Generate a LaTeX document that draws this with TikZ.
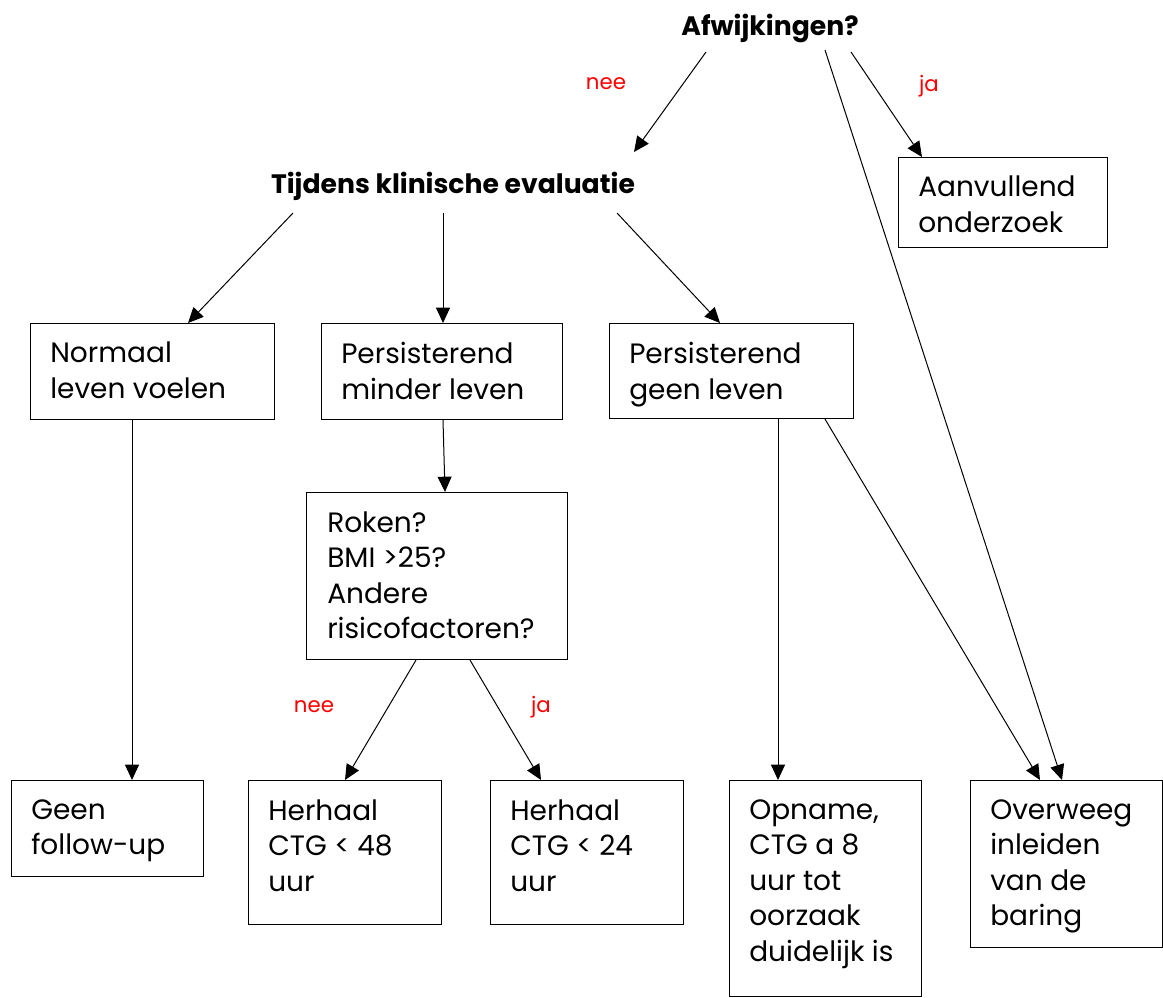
\documentclass[tikz,border=0pt]{standalone}
\usepackage{fontspec}
\setmainfont{Poppins}
\usetikzlibrary{arrows.meta,calc}
\tikzset{
  box/.style={draw, line width=0.8pt, anchor=north west, inner sep=0pt},
  txt/.style={anchor=north west, inner sep=0pt, align=left, font=\fontsize{21}{26.7}\selectfont},
  arr/.style={line width=0.75pt, -{Triangle[length=11.5pt,width=10.5pt]}},
  title/.style={font=\fontsize{20}{24}\selectfont\bfseries},
  lab/.style={text=red, font=\fontsize{16}{18}\selectfont},
}
\begin{document}
\begin{tikzpicture}[x=0.75pt,y=-0.75pt]
\useasboundingbox (0,0) rectangle (1163,997);
\node[title] (afw) at (770,28) {Afwijkingen?};
\node[title] (tij) at (453,186) {Tijdens klinische evaluatie};
% boxes
\node[box, minimum width=156.75pt, minimum height=67.5pt] (aan) at (898,157) {};
\node[box, minimum width=183pt, minimum height=72pt] (nor) at (30,323) {};
\node[box, minimum width=180.75pt, minimum height=72pt] (min) at (321,323) {};
\node[box, minimum width=183pt, minimum height=71.25pt] (gel) at (609,323) {};
\node[box, minimum width=195.75pt, minimum height=125.25pt] (rok) at (306,492) {};
\node[box, minimum width=144pt, minimum height=72pt] (gfu) at (11,780) {};
\node[box, minimum width=144.75pt, minimum height=108pt] (h48) at (248,780) {};
\node[box, minimum width=144.75pt, minimum height=108pt] (h24) at (490,780) {};
\node[box, minimum width=144pt, minimum height=162pt] (opn) at (729,780) {};
\node[box, minimum width=144pt, minimum height=125.25pt] (ove) at (970,780) {};
% texts
\node[txt] (aan-t) at ($(aan.north west)+(20,19)$) {Aanvullend\\onderzoek};
\node[txt] (nor-t) at ($(nor.north west)+(20,19)$) {Normaal\\leven voelen};
\node[txt] (min-t) at ($(min.north west)+(20,19)$) {Persisterend\\minder leven};
\node[txt] (gel-t) at ($(gel.north west)+(20,19)$) {Persisterend\\geen leven};
\node[txt] (rok-t) at ($(rok.north west)+(21,19)$) {Roken?\\BMI >25?\\Andere\\risicofactoren?};
\node[txt] (gfu-t) at ($(gfu.north west)+(20,19)$) {Geen\\follow-up};
\node[txt] (h48-t) at ($(h48.north west)+(20,19)$) {Herhaal\\CTG < 48\\uur};
\node[txt] (h24-t) at ($(h24.north west)+(20,19)$) {Herhaal\\CTG < 24\\uur};
\node[txt] (opn-t) at ($(opn.north west)+(20,19)$) {Opname,\\CTG a 8\\uur tot\\oorzaak\\duidelijk is};
\node[txt] (ove-t) at ($(ove.north west)+(20,19)$) {Overweeg\\inleiden\\van de\\baring};
% labels
\node[lab] (l1) at (606,84) {nee};
\node[lab] (l2) at (929,86) {ja};
\node[lab] (l3) at (314,707) {nee};
\node[lab] (l4) at (541,707) {ja};
% connectors
\draw[arr] ($(afw)+(-64,24)$) -- ($(tij)+(181,-34)$);
\draw[arr] ($(afw)+(81,24)$) -- ($(aan.north west)+(24,0)$);
\draw[arr] ($(afw)+(55,22)$) -- ($(ove.north west)+(92,0)$);
\draw[arr] ($(tij)+(-160,27)$) -- ($(nor.north west)+(158,0)$);
\draw[arr] ($(tij)+(-10,27)$) -- ($(min.north west)+(122,0)$);
\draw[arr] ($(tij)+(164,27)$) -- ($(gel.north west)+(111,0)$);
\draw[arr] ($(nor.south west)+(102,0)$) -- ($(gfu.north west)+(121,0)$);
\draw[arr] ($(min.south west)+(122,0)$) -- ($(rok.north west)+(139,0)$);
\draw[arr] ($(rok.south west)+(110,0)$) -- ($(h48.north west)+(97,0)$);
\draw[arr] ($(rok.south west)+(164,0)$) -- ($(h24.north west)+(51,0)$);
\draw[arr] ($(gel.south west)+(169,0)$) -- ($(opn.north west)+(49,0)$);
\draw[arr] ($(gel.south west)+(216,0)$) -- ($(ove.north west)+(70,0)$);
\end{tikzpicture}
\end{document}
